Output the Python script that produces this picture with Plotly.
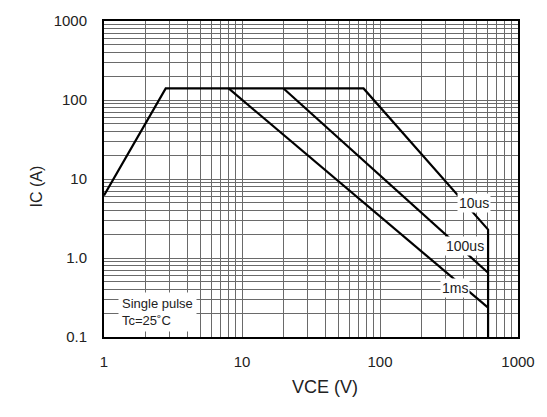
import plotly.graph_objects as go

# Safe operating area curves (VCE in V, IC in A)
dc_x = [1, 2.8, 76, 607, 607]
dc_y = [6.2, 140, 140, 2.29, 0.1]
us100_x = [20, 607]
us100_y = [140, 0.65]
ms1_x = [8, 607]
ms1_y = [140, 0.235]

x_tick_vals = [1, 10, 100, 1000]
x_tick_text = ["1", "10", "100", "1000"]
y_tick_vals = [0.1, 1, 10, 100, 1000]
y_tick_text = ["0.1", "1.0", "10", "100", "1000"]

labels = ["10us", "100us", "1ms"]
label_x = [476, 410, 348]
label_y = [5.0, 1.41, 0.42]

FONT = "Liberation Sans, Arial, sans-serif"

# full log grid values
gx = [m * 10 ** d for d in range(0, 3) for m in range(1, 10)] + [1000]
gy = [m * 10 ** d for d in range(-1, 3) for m in range(1, 10)] + [1000]

fig = go.Figure()
line_style = dict(color="black", width=2.2)
for xs, ys in [(dc_x, dc_y), (us100_x, us100_y), (ms1_x, ms1_y)]:
    fig.add_trace(go.Scatter(x=xs, y=ys, mode="lines", line=line_style,
                             showlegend=False, hoverinfo="skip"))

for t, x, y in zip(labels, label_x, label_y):
    fig.add_annotation(x=__import__("math").log10(x), y=__import__("math").log10(y),
                       text=t, showarrow=False, bgcolor="white",
                       font=dict(family=FONT, size=14, color="#222"), borderpad=1)

fig.add_annotation(xref="paper", yref="paper", x=0.034, y=0.078,
                   xanchor="left", yanchor="middle", align="left",
                   text="Single pulse<br>Tc=25˚C", showarrow=False, bgcolor="white",
                   font=dict(family=FONT, size=13, color="#222"), borderpad=3)

fig.add_annotation(xref="paper", yref="paper", x=-0.189, y=0.477,
                   text="IC (A)", textangle=-90, showarrow=False,
                   font=dict(family=FONT, size=16, color="#222"))
fig.add_annotation(xref="paper", yref="paper", x=0.533, y=-0.196,
                   text="VCE (V)", showarrow=False,
                   font=dict(family=FONT, size=18, color="#222"))

xt = [x_tick_text[x_tick_vals.index(v)] if v in x_tick_vals else "" for v in gx]
yt = [y_tick_text[y_tick_vals.index(v)] if v in y_tick_vals else "" for v in gy]

fig.update_xaxes(type="log", range=[0, 3], tickvals=gx, ticktext=xt,
                 showgrid=True, gridcolor="#6a6a6a", gridwidth=1,
                 showline=True, linecolor="black", linewidth=2, mirror=True,
                 ticks="", ticklabelstandoff=10, zeroline=False,
                 tickfont=dict(family=FONT, size=15, color="#222"))
fig.update_yaxes(type="log", range=[-1, 3], tickvals=gy, ticktext=yt,
                 showgrid=True, gridcolor="#6a6a6a", gridwidth=1,
                 showline=True, linecolor="black", linewidth=2, mirror=True,
                 ticks="", ticklabelstandoff=12, zeroline=False,
                 tickfont=dict(family=FONT, size=15, color="#222"))

fig.update_layout(width=547, height=417, plot_bgcolor="white", paper_bgcolor="white",
                  margin=dict(l=104, r=25, t=16, b=80), showlegend=False)

fig.write_html("out.html")
